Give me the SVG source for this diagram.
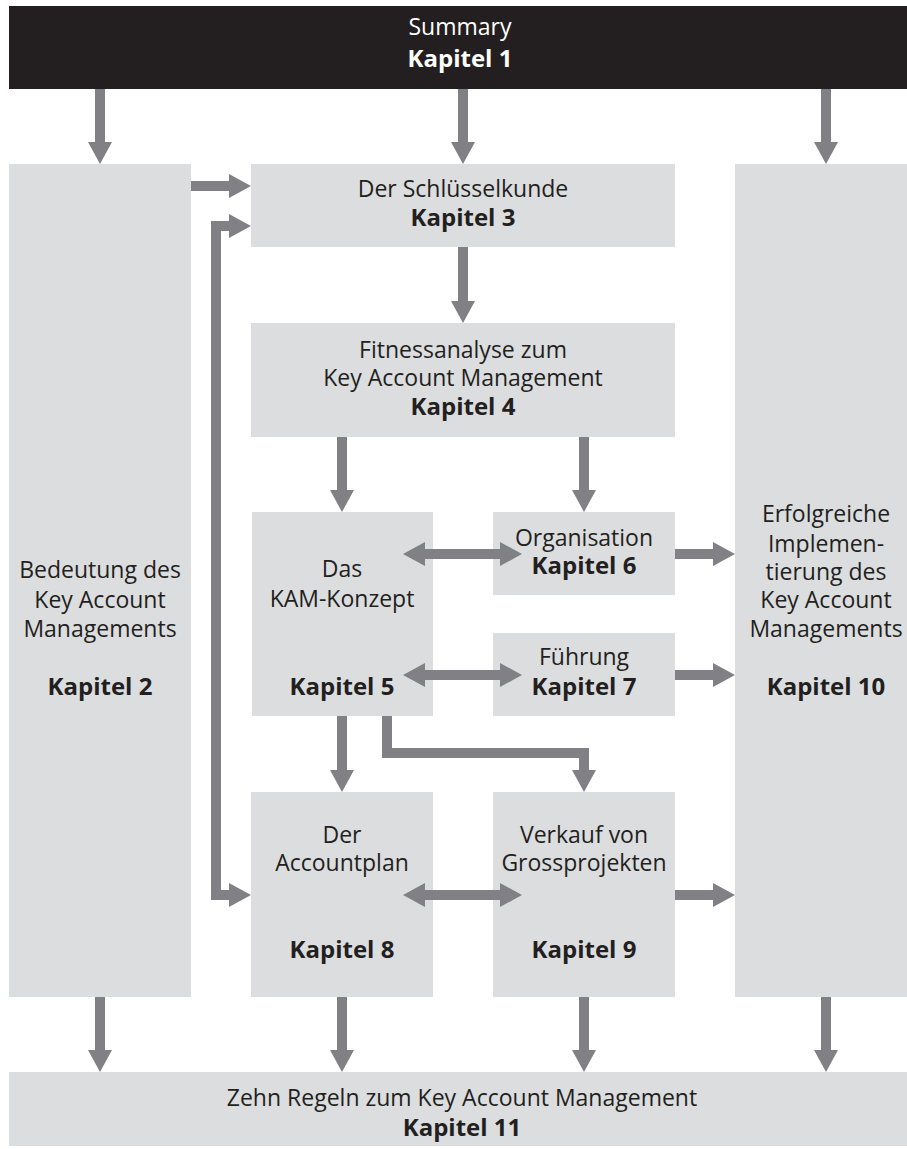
<svg xmlns="http://www.w3.org/2000/svg" width="907" height="1149" viewBox="0 0 907 1149">
<style>
.box{fill:#dcdddf}
.top{fill:#231f20}
text{font-family:"Open Sans","Liberation Sans",sans-serif;font-size:23px;fill:#231f20;text-anchor:middle}
.b{font-weight:bold;font-size:24px}
.w{fill:#ffffff}
.c{fill:none;stroke:#808085;stroke-width:10;stroke-linejoin:miter;stroke-linecap:butt}
</style>
<defs>
<marker id="ah" markerUnits="userSpaceOnUse" markerWidth="22" markerHeight="24" refX="0" refY="12" orient="auto-start-reverse" overflow="visible">
<path d="M0,0 L22,12 L0,24 Z" fill="#808085"/>
</marker>
</defs>
<g id="n1">
<rect class="top" x="9" y="6" width="898" height="83"/>
<text class="w" x="460" y="35">Summary</text>
<text class="w b" x="460" y="67">Kapitel 1</text>
</g>
<g id="n2">
<rect class="box" x="9" y="164" width="182" height="833"/>
<text x="100" y="578">Bedeutung des</text>
<text x="100" y="608">Key Account</text>
<text x="100" y="637">Managements</text>
<text class="b" x="100" y="695">Kapitel 2</text>
</g>
<g id="n3">
<rect class="box" x="251" y="164" width="424" height="83"/>
<text x="463" y="197">Der Schlüsselkunde</text>
<text class="b" x="463" y="226">Kapitel 3</text>
</g>
<g id="n4">
<rect class="box" x="251" y="323" width="424" height="114"/>
<text x="463" y="358">Fitnessanalyse zum</text>
<text x="463" y="386">Key Account Management</text>
<text class="b" x="463" y="415">Kapitel 4</text>
</g>
<g id="n5">
<rect class="box" x="252" y="512" width="181" height="204"/>
<text x="342" y="577">Das</text>
<text x="342" y="607">KAM-Konzept</text>
<text class="b" x="342" y="695">Kapitel 5</text>
</g>
<g id="n6">
<rect class="box" x="493" y="512" width="182" height="83"/>
<text x="584" y="546">Organisation</text>
<text class="b" x="584" y="574">Kapitel 6</text>
</g>
<g id="n7">
<rect class="box" x="493" y="633" width="182" height="83"/>
<text x="584" y="665">Führung</text>
<text class="b" x="584" y="695">Kapitel 7</text>
</g>
<g id="n8">
<rect class="box" x="251" y="792" width="182" height="205"/>
<text x="342" y="843">Der</text>
<text x="342" y="871">Accountplan</text>
<text class="b" x="342" y="958">Kapitel 8</text>
</g>
<g id="n9">
<rect class="box" x="493" y="792" width="182" height="205"/>
<text x="584" y="843">Verkauf von</text>
<text x="584" y="871">Grossprojekten</text>
<text class="b" x="584" y="958">Kapitel 9</text>
</g>
<g id="n10">
<rect class="box" x="735" y="164" width="172" height="833"/>
<text x="826" y="522">Erfolgreiche</text>
<text x="826" y="552">Implemen-</text>
<text x="826" y="580">tierung des</text>
<text x="826" y="608">Key Account</text>
<text x="826" y="637">Managements</text>
<text class="b" x="826" y="695">Kapitel 10</text>
</g>
<g id="n11">
<rect class="box" x="9" y="1072" width="898" height="74"/>
<text x="462" y="1106">Zehn Regeln zum Key Account Management</text>
<text class="b" x="462" y="1136">Kapitel 11</text>
</g>
<g id="connectors">
<line class="c" x1="100" y1="89" x2="100" y2="142" marker-end="url(#ah)"/>
<line class="c" x1="463" y1="89" x2="463" y2="142" marker-end="url(#ah)"/>
<line class="c" x1="826" y1="89" x2="826" y2="142" marker-end="url(#ah)"/>
<line class="c" x1="191" y1="186" x2="229" y2="186" marker-end="url(#ah)"/>
<polyline class="c" points="229,226 216,226 216,895 229,895" marker-start="url(#ah)" marker-end="url(#ah)"/>
<line class="c" x1="463" y1="247" x2="463" y2="301" marker-end="url(#ah)"/>
<line class="c" x1="342" y1="437" x2="342" y2="490" marker-end="url(#ah)"/>
<line class="c" x1="584" y1="437" x2="584" y2="490" marker-end="url(#ah)"/>
<line class="c" x1="425" y1="554" x2="500" y2="554" marker-start="url(#ah)" marker-end="url(#ah)"/>
<line class="c" x1="425" y1="675" x2="500" y2="675" marker-start="url(#ah)" marker-end="url(#ah)"/>
<line class="c" x1="675" y1="554" x2="713" y2="554" marker-end="url(#ah)"/>
<line class="c" x1="675" y1="675" x2="713" y2="675" marker-end="url(#ah)"/>
<line class="c" x1="342" y1="716" x2="342" y2="770" marker-end="url(#ah)"/>
<polyline class="c" points="387,716 387,753 584,753 584,770" marker-end="url(#ah)"/>
<line class="c" x1="425" y1="895" x2="500" y2="895" marker-start="url(#ah)" marker-end="url(#ah)"/>
<line class="c" x1="675" y1="895" x2="713" y2="895" marker-end="url(#ah)"/>
<line class="c" x1="100" y1="997" x2="100" y2="1050" marker-end="url(#ah)"/>
<line class="c" x1="342" y1="997" x2="342" y2="1050" marker-end="url(#ah)"/>
<line class="c" x1="584" y1="997" x2="584" y2="1050" marker-end="url(#ah)"/>
<line class="c" x1="826" y1="997" x2="826" y2="1050" marker-end="url(#ah)"/>
</g>
</svg>
